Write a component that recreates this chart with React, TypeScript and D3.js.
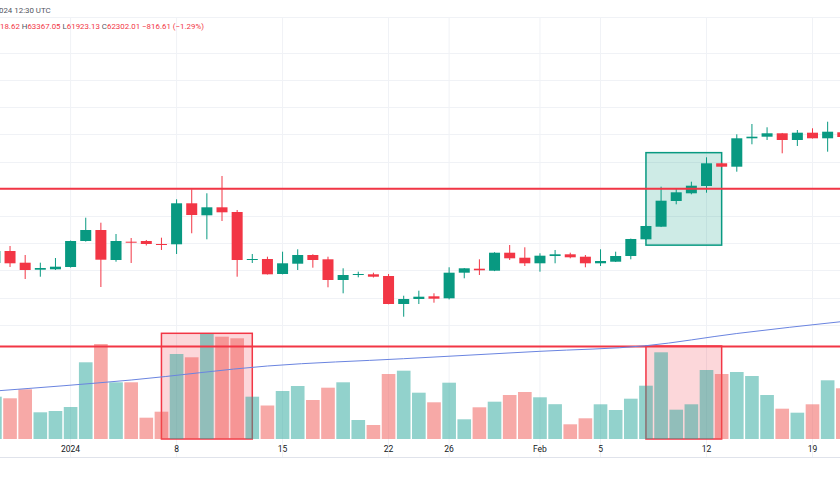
import * as d3 from 'd3';

const W = 840;
const H = 480;

// daily candles, 27 Dec 2023 .. 21 Feb 2024
const days = d3.utcDay.range(new Date(Date.UTC(2023, 11, 27)), new Date(Date.UTC(2024, 1, 22)));

const opens = [
  42537, 43419, 42559, 42044, 42074,
  42243, 44154, 44963, 42757, 44103, 44154, 43934, 43912, 46927, 46044, 46632, 46287, 42757, 42831, 41728,
  42485, 43125, 42809, 41287, 41654, 41706, 41581, 39522, 39890, 40088, 39941, 41824, 42118, 41971, 43294, 42926,
  42515, 43051, 43176, 43000, 42515, 42632, 43051, 44279, 45206, 47096, 47662, 48199, 49868, 49618, 51706, 51824,
  52074, 51581, 52118, 51706, 52147,
];
const highs = [
  43680, 43787, 43125, 42559, 42904,
  44190, 45868, 45500, 44669, 44375, 44228, 44397, 47221, 47956, 47662, 48934, 46434, 43199, 43000, 43368,
  43544, 43180, 43000, 42147, 41897, 41824, 41728, 40132, 40500, 40309, 42221, 42169, 42809, 43330, 43860, 43691,
  43250, 43493, 43294, 43125, 43544, 43368, 44330, 45290, 48147, 48029, 48515, 50309, 49912, 52000, 52757, 52515,
  52100, 52316, 52441, 52926, 52400,
];
const lows = [
  42100, 42243, 41360, 41529, 42022,
  42200, 44110, 40772, 42632, 42537, 43824, 43493, 43199, 44721, 44279, 45625, 41529, 42537, 41690, 41700,
  42022, 42191, 40750, 40309, 41485, 41470, 39500, 38588, 39522, 39618, 39860, 41412, 41654, 41940, 42757, 42316,
  41897, 42515, 42882, 42221, 42316, 42610, 42809, 44250, 45180, 46853, 47588, 47706, 49574, 49250, 51265, 51581,
  50603, 51140, 51690, 50721, 51000,
];
const closes = [
  43419, 42515, 42022, 42169, 42265,
  44154, 44963, 42779, 44154, 44029, 43934, 43882, 46927, 46066, 46632, 46265, 42757, 42831, 41706, 42515,
  43125, 42757, 41287, 41654, 41728, 41529, 39522, 39890, 40059, 39912, 41824, 42147, 42000, 43294, 42882, 42515,
  43074, 43176, 42956, 42515, 42684, 43051, 44302, 45257, 47118, 47735, 48221, 49868, 49618, 51706, 51824, 52074,
  51581, 52118, 51706, 52191, 51801,
];
const volumes = [
  42300, 40700, 49700, 26700, 28000,
  32000, 76700, 95000, 56700, 56700, 21300, 27300, 85000, 81700, 105000, 102300, 100700, 42300, 33500, 48000,
  53000, 39000, 51300, 56700, 19000, 14000, 65000, 68300, 46300, 36700, 56300, 19700, 31700, 37300, 44000, 47000,
  41700, 34800, 14700, 20700, 34700, 29000, 40300, 53300, 86700, 29300, 34700, 69000, 65000, 67000, 63000, 44000,
  30300, 26300, 34700, 58700, 50700,
];

// volume moving average, sampled
const maDates = ['2023-12-27', '2024-01-05', '2024-01-14', '2024-01-23', '2024-02-01', '2024-02-08', '2024-02-14', '2024-02-21'];
const maValues = [48000, 59000, 73000, 80300, 87700, 93300, 105500, 117500];

const tickDates = ['2024-01-01', '2024-01-08', '2024-01-15', '2024-01-22', '2024-01-26', '2024-02-01', '2024-02-05', '2024-02-12', '2024-02-19'];
const tickLabels = ['2024', '8', '15', '22', '26', 'Feb', '5', '12', '19'];

const priceGrid = d3.range(38000, 60000, 2000);

const resistance = 48000;
const volumeLevel = 92500;
const priceBox = { from: '2024-02-08', to: '2024-02-13', top: 50650, bottom: 43850 };
const volumeBoxes = [
  { from: '2024-01-07', to: '2024-01-13', top: 105700 },
  { from: '2024-02-08', to: '2024-02-13', top: 93000 },
];

const UP = '#089981';
const DOWN = '#f23645';
const FONT = 'Roboto, "Noto Sans", sans-serif';

const day = (s: string) => new Date(s + 'T00:00:00Z');

export default function App() {
  const x = d3.scaleUtc()
    .domain([day('2024-01-01'), day('2024-02-19')])
    .range([70.6, 812.5]);
  const step = x(day('2024-01-02')) - x(day('2024-01-01'));
  const y = d3.scaleLinear().domain([40000, 50000]).range([297.5, 161.5]);
  const v = d3.scaleLinear().domain([0, 100000]).range([439, 339]);

  const bodyW = 11;
  const barW = step - 1.5;

  const maLine = d3.line<number>()
    .x((_, i) => x(day(maDates[i])))
    .y(d => v(d))
    .curve(d3.curveMonotoneX)(maValues);

  return (
    <svg width={W} height={H} style={{ position: 'absolute', left: 0, top: 0, background: '#fff' }}>
      <rect width={W} height={H} fill="#fff" />

      {/* grid */}
      <g stroke="#f0f2f6" strokeWidth={1}>
        <line x1={0} x2={W} y1={17.5} y2={17.5} />
        {priceGrid.map(p => (
          <line key={p} x1={0} x2={W} y1={Math.round(y(p)) + 0.5} y2={Math.round(y(p)) + 0.5} />
        ))}
        {tickDates.map(t => (
          <line key={t} x1={x(day(t))} x2={x(day(t))} y1={18} y2={457} />
        ))}
      </g>

      {/* drawings */}
      <rect
        x={x(day(priceBox.from))}
        y={y(priceBox.top)}
        width={x(day(priceBox.to)) - x(day(priceBox.from))}
        height={y(priceBox.bottom) - y(priceBox.top)}
        fill="rgba(8,153,129,0.2)"
        stroke={UP}
        strokeWidth={1.5}
      />
      {volumeBoxes.map(b => (
        <rect
          key={b.from}
          x={x(day(b.from))}
          y={v(b.top)}
          width={x(day(b.to)) - x(day(b.from))}
          height={v(0) - v(b.top)}
          fill="rgba(242,54,69,0.2)"
          stroke={DOWN}
          strokeWidth={1.5}
        />
      ))}

      {/* volume */}
      <g>
        {days.map((d, i) => (
          <rect
            key={i}
            x={x(d) - barW / 2}
            y={v(volumes[i])}
            width={barW}
            height={v(0) - v(volumes[i])}
            fill={closes[i] >= opens[i] ? 'rgba(38,166,154,0.5)' : 'rgba(239,83,80,0.5)'}
          />
        ))}
      </g>

      {/* candles */}
      <g>
        {days.map((d, i) => {
          const up = closes[i] >= opens[i];
          const c = up ? UP : DOWN;
          const cx = x(d);
          const top = y(Math.max(opens[i], closes[i]));
          const bot = y(Math.min(opens[i], closes[i]));
          return (
            <g key={i}>
              <line x1={cx} x2={cx} y1={y(highs[i])} y2={y(lows[i])} stroke={c} strokeWidth={1} />
              <rect x={cx - bodyW / 2} y={top} width={bodyW} height={Math.max(1, bot - top)} fill={c} />
            </g>
          );
        })}
      </g>

      {/* horizontal levels */}
      <line x1={0} x2={W} y1={y(resistance)} y2={y(resistance)} stroke={DOWN} strokeWidth={2} />
      <line x1={0} x2={W} y1={v(volumeLevel)} y2={v(volumeLevel)} stroke={DOWN} strokeWidth={2} />

      <path d={maLine ?? ''} fill="none" stroke="#6a84e0" strokeWidth={1} />

      {/* time axis */}
      <line x1={0} x2={W} y1={457.5} y2={457.5} stroke="#e0e3eb" />
      <g fontFamily={FONT} fontSize={8.5} fill="#131722" textAnchor="middle">
        {tickDates.map((t, i) => (
          <text key={t} x={x(day(t))} y={451.5}>{tickLabels[i]}</text>
        ))}
      </g>

      {/* legend */}
      <g fontFamily={FONT} fontSize={7.9}>
        <text x={-1} y={12.5} fill="#50535e">024 12:30 UTC</text>
        <text x={0} y={29} fill={DOWN}>
          <tspan>18.62 </tspan>
          <tspan fill="#50535e">H</tspan><tspan>63367.05 </tspan>
          <tspan fill="#50535e">L</tspan><tspan>61923.13 </tspan>
          <tspan fill="#50535e">C</tspan><tspan>62302.01 </tspan>
          <tspan>−816.61 (−1.29%)</tspan>
        </text>
      </g>
    </svg>
  );
}
